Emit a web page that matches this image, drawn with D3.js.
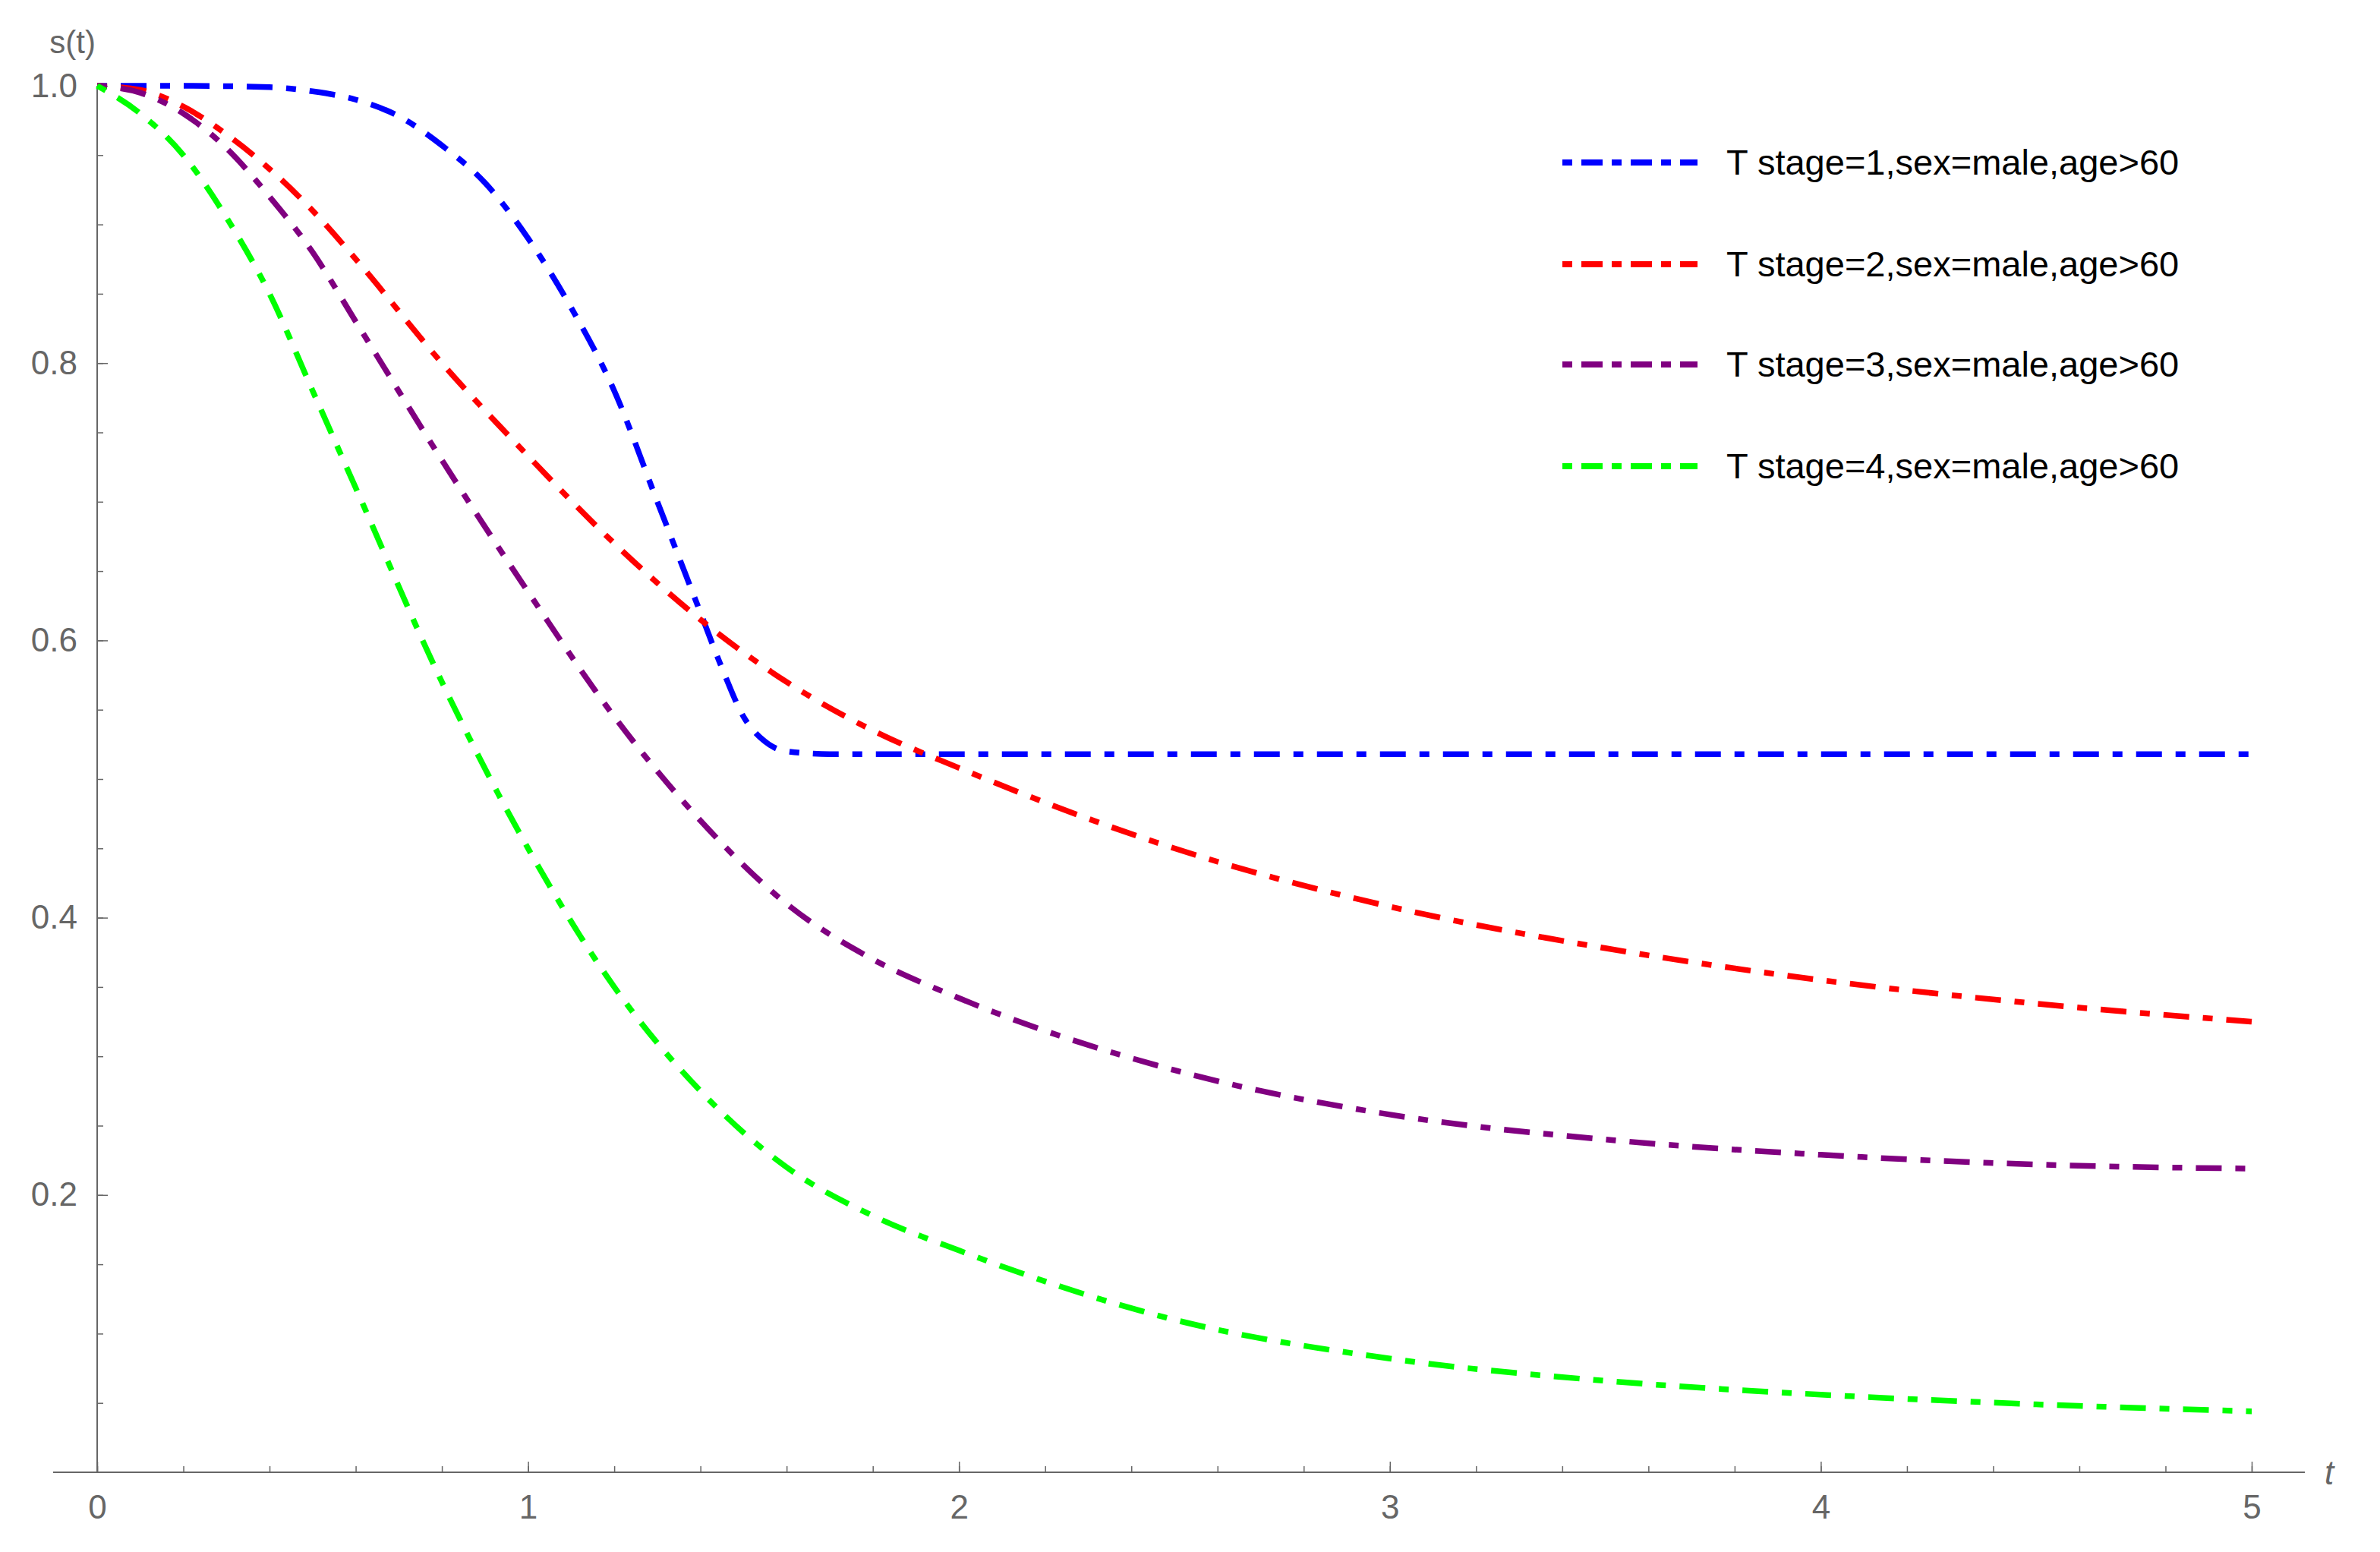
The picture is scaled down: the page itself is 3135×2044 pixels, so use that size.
<!DOCTYPE html><html><head><meta charset="utf-8"><script src="https://cdn.jsdelivr.net/npm/d3@7"></script>
<style>body{margin:0;background:#fff}</style></head><body><svg id="c" width="3135" height="2044"></svg><script>
const tBlue=[0,0.2,0.4,0.5,0.6,0.7,0.8,0.9,1.0,1.1,1.2,1.3,1.4,1.45,1.5,1.55,1.6,1.7,2,3,4,5];
const sBlue=[1,1,0.999,0.996,0.99,0.978,0.957,0.93,0.89,0.84,0.78,0.70,0.62,0.58,0.545,0.527,0.52,0.518,0.518,0.518,0.518,0.518];
const tCommon=[0,0.1,0.2,0.3,0.4,0.5,0.6,0.8,1.0,1.2,1.4,1.6,1.8,2.0,2.5,3,3.5,4,4.5,5];
const sRed=[1,0.997,0.985,0.965,0.94,0.91,0.875,0.80,0.733,0.67,0.615,0.57,0.535,0.508,0.45,0.408,0.378,0.355,0.338,0.325];
const sPurple=[1,0.995,0.98,0.955,0.92,0.88,0.83,0.73,0.635,0.545,0.47,0.41,0.37,0.342,0.29,0.258,0.24,0.229,0.222,0.219];
const sGreen=[1,0.98,0.95,0.905,0.85,0.78,0.71,0.57,0.45,0.35,0.275,0.22,0.185,0.16,0.11,0.082,0.066,0.056,0.049,0.044];
const seriesNames=["T stage=1,sex=male,age>60","T stage=2,sex=male,age>60","T stage=3,sex=male,age>60","T stage=4,sex=male,age>60"];
const colors=["#0000ff","#ff0000","#800080","#00ff00"];
const series=[[tBlue,sBlue],[tCommon,sRed],[tCommon,sPurple],[tCommon,sGreen]];
const xTicks=[0,1,2,3,4,5], yTicks=[0.2,0.4,0.6,0.8,1.0];
const svg=d3.select("#c");
const x=d3.scaleLinear().domain([0,5]).range([128,2966]);
const y=d3.scaleLinear().domain([0,1]).range([1939,113]);
const gray="#666";
const dash="13,18,34,18";
const font="Arial, Liberation Sans";
svg.append("line").attr("x1",70).attr("x2",3036).attr("y1",y(0)).attr("y2",y(0)).attr("stroke",gray).attr("stroke-width",2);
svg.append("line").attr("x1",x(0)).attr("x2",x(0)).attr("y1",y(0)).attr("y2",y(1)).attr("stroke",gray).attr("stroke-width",2);
const xAx=svg.append("g").attr("transform",`translate(0,${y(0)})`);
xAx.call(d3.axisBottom(x).tickValues(d3.range(0,5.01,0.2)).tickSize(-8).tickFormat(""));
xAx.append("g").call(d3.axisBottom(x).tickValues(xTicks).tickSize(-14).tickPadding(30).tickFormat(d3.format("d")));
xAx.selectAll(".domain").remove();
xAx.selectAll("line").attr("stroke",gray).attr("stroke-width",1.5);
xAx.selectAll("text").attr("fill",gray).style("font-family",font).style("font-size","44px");
const yAx=svg.append("g").attr("transform",`translate(${x(0)},0)`);
yAx.call(d3.axisLeft(y).tickValues(d3.range(0.05,1.001,0.05)).tickSize(-8).tickFormat(""));
yAx.append("g").call(d3.axisLeft(y).tickValues(yTicks).tickSize(-14).tickPadding(26).tickFormat(d3.format(".1f")));
yAx.selectAll(".domain").remove();
yAx.selectAll("line").attr("stroke",gray).attr("stroke-width",1.5);
yAx.selectAll("text").attr("fill",gray).style("font-family",font).style("font-size","44px");
svg.append("text").attr("x",x(0)-2).attr("y",70).attr("text-anchor","end").attr("fill",gray).style("font-family",font).style("font-size","42px").text("s(t)");
svg.append("text").attr("x",3062).attr("y",1955).attr("fill",gray).style("font-family",font).style("font-style","italic").style("font-size","44px").text("t");
const line=d3.line().x(d=>x(d[0])).y(d=>y(d[1])).curve(d3.curveMonotoneX);
series.forEach((s,i)=>{
  const pts=s[0].map((t,j)=>[t,s[1][j]]);
  svg.append("path").attr("d",line(pts)).attr("fill","none").attr("stroke",colors[i]).attr("stroke-width",7.5).attr("stroke-dasharray",dash);
});
const legY=[214,348,480,614];
seriesNames.forEach((n,i)=>{
  svg.append("line").attr("x1",2058).attr("x2",2236).attr("y1",legY[i]).attr("y2",legY[i]).attr("stroke",colors[i]).attr("stroke-width",8).attr("stroke-dasharray","13,12,28,12");
  svg.append("text").attr("x",2274).attr("y",legY[i]+16).attr("fill","#000").style("font-family",font).style("font-size","47px").text(n);
});
</script></body></html>
